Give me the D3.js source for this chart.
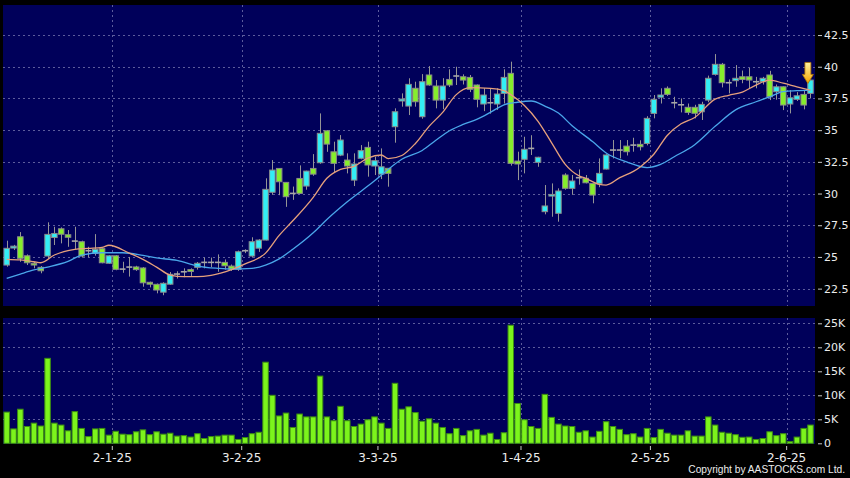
<!DOCTYPE html>
<html><head><meta charset="utf-8">
<script src="https://cdn.jsdelivr.net/npm/d3@7"></script>
<style>html,body{margin:0;padding:0;background:#000;} svg{display:block;}</style>
</head><body><svg id="c" width="850" height="478"></svg>
<script>
// ---------- DATA ----------
const dates = [
"2024-12-06","2024-12-09","2024-12-10","2024-12-11","2024-12-12","2024-12-13","2024-12-16","2024-12-17","2024-12-18","2024-12-19",
"2024-12-20","2024-12-23","2024-12-24","2024-12-27","2024-12-30","2024-12-31","2025-01-02","2025-01-03","2025-01-06","2025-01-07",
"2025-01-08","2025-01-09","2025-01-10","2025-01-13","2025-01-14","2025-01-15","2025-01-16","2025-01-17","2025-01-20","2025-01-21",
"2025-01-22","2025-01-23","2025-01-24","2025-01-27","2025-01-28","2025-02-03","2025-02-04","2025-02-05","2025-02-06","2025-02-07",
"2025-02-10","2025-02-11","2025-02-12","2025-02-13","2025-02-14","2025-02-17","2025-02-18","2025-02-19","2025-02-20","2025-02-21",
"2025-02-24","2025-02-25","2025-02-26","2025-02-27","2025-02-28","2025-03-03","2025-03-04","2025-03-05","2025-03-06","2025-03-07",
"2025-03-10","2025-03-11","2025-03-12","2025-03-13","2025-03-14","2025-03-17","2025-03-18","2025-03-19","2025-03-20","2025-03-21",
"2025-03-24","2025-03-25","2025-03-26","2025-03-27","2025-03-28","2025-03-31","2025-04-01","2025-04-02","2025-04-03","2025-04-07",
"2025-04-08","2025-04-09","2025-04-10","2025-04-11","2025-04-14","2025-04-15","2025-04-16","2025-04-17","2025-04-22","2025-04-23",
"2025-04-24","2025-04-25","2025-04-28","2025-04-29","2025-04-30","2025-05-02","2025-05-06","2025-05-07","2025-05-08","2025-05-09",
"2025-05-12","2025-05-13","2025-05-14","2025-05-15","2025-05-16","2025-05-19","2025-05-20","2025-05-21","2025-05-22","2025-05-23",
"2025-05-26","2025-05-27","2025-05-28","2025-05-29","2025-05-30","2025-06-02","2025-06-03","2025-06-04","2025-06-05"];

const open = [
24.36,25.7,26.59,25.09,24.5,24.18,25.07,26.53,27.22,26.75,
26.25,26.2,25.49,25.28,25.65,24.5,25.09,24.04,24.2,24.21,
24.13,23.0,22.84,22.22,22.85,23.65,23.83,24.0,24.18,24.57,
24.57,24.57,24.57,24.28,24.02,25.49,25.07,25.69,26.33,30.1,
31.98,30.88,30.01,31.19,30.59,31.98,32.43,34.95,33.29,33.03,
32.64,31.06,32.78,33.64,32.17,31.53,31.99,35.27,37.3,36.9,
38.3,36.06,39.35,38.48,37.37,39.0,39.27,39.21,39.16,38.56,
37.06,37.16,37.06,37.9,39.48,32.56,32.7,33.56,32.46,28.57,
29.8,28.44,31.46,30.41,31.25,31.2,30.8,30.8,31.93,33.43,
33.43,33.74,33.82,33.88,33.95,36.32,37.6,38.3,37.16,37.0,
36.8,36.8,36.45,37.37,39.4,40.19,38.74,38.9,39.21,39.21,
38.82,38.82,39.35,38.03,38.42,37.06,37.43,37.82,37.9];

const high = [
26.28,25.95,26.96,25.2,24.6,24.28,27.73,27.38,27.33,27.12,
27.38,26.28,25.8,26.8,25.7,25.15,25.15,24.62,25.0,24.3,
24.2,23.05,22.9,23.0,23.81,23.87,24.1,24.1,24.6,24.95,
24.95,25.2,24.8,24.4,25.5,25.6,26.55,26.4,31.2,32.64,
32.0,30.9,30.55,32.22,31.8,33.11,36.32,35.0,34.09,34.61,
33.17,33.17,33.82,34.09,32.9,33.56,32.0,36.72,37.9,39.09,
38.82,39.42,40.05,38.95,39.1,39.8,40.0,39.4,39.35,38.6,
38.3,38.3,38.3,39.8,40.4,33.3,34.48,34.6,32.9,30.67,
30.8,30.41,31.6,31.46,31.9,31.46,30.85,32.77,33.1,34.22,
34.22,34.22,34.4,34.2,36.1,37.77,38.3,38.45,37.63,37.5,
37.1,37.0,37.24,39.3,41.0,40.3,39.0,40.13,39.7,39.9,
39.2,39.2,39.68,38.6,38.45,38.16,38.0,38.16,39.0];

const low = [
24.23,25.55,24.62,24.36,24.1,23.71,24.85,25.94,26.07,25.8,
25.6,24.95,24.97,25.1,24.5,24.45,23.95,23.75,23.45,23.9,
22.65,22.6,22.13,21.98,22.8,23.3,23.4,23.5,24.0,24.1,
24.2,23.83,24.0,23.9,23.9,25.3,24.95,25.4,26.3,29.9,
29.87,28.95,29.5,30.0,30.3,31.4,32.35,33.29,31.64,32.95,
31.59,30.59,32.7,31.33,31.46,31.14,30.54,34.01,36.85,36.19,
36.85,35.9,38.5,36.72,36.65,38.4,38.56,38.6,38.0,36.8,
36.5,36.3,36.6,37.1,32.2,31.06,31.59,33.04,32.11,28.36,
28.17,27.78,30.3,29.9,30.7,30.8,29.23,30.5,31.9,32.77,
32.77,33.0,33.3,33.4,33.8,35.93,37.1,37.7,36.72,36.4,
36.2,35.93,35.8,37.2,39.3,38.37,37.9,38.42,38.7,38.3,
38.3,38.6,37.37,37.4,36.58,36.32,37.3,36.64,37.5];

const close = [
25.68,25.85,24.89,24.54,24.36,23.91,26.78,26.85,26.79,26.55,
26.25,25.07,25.49,25.6,24.54,25.09,24.02,24.04,24.2,24.0,
22.96,22.85,22.39,22.92,23.63,23.65,23.83,23.85,24.5,24.57,
24.57,24.57,24.3,24.02,25.41,25.49,26.2,26.33,30.33,31.85,
30.93,29.75,30.01,30.01,31.77,31.53,34.75,33.9,32.38,34.22,
32.17,32.33,33.38,32.25,32.59,32.11,31.59,36.45,37.45,38.61,
37.24,38.82,38.56,37.37,38.48,38.56,39.27,38.95,38.22,37.43,
37.77,37.16,37.85,39.16,32.38,32.33,33.49,33.56,32.86,29.02,
29.93,30.2,30.41,30.99,31.25,30.85,29.88,31.59,33.04,33.43,
33.43,33.3,33.82,33.69,35.93,37.43,37.77,37.82,37.16,37.0,
36.4,36.33,37.03,39.09,40.19,38.74,38.74,39.09,39.0,38.95,
38.82,39.09,37.63,38.42,36.98,37.55,37.71,36.98,38.95];

const volume = [
6500,3000,7100,3500,4200,3600,17700,4200,3800,2600,
6600,3100,1400,3000,3100,1700,2500,1900,1800,2400,
2800,1800,2400,1900,2100,1500,1600,1300,2000,1000,
1400,1500,1700,1700,800,1200,2000,2300,16900,10000,
5700,6300,3300,6100,5500,5500,14000,5500,4700,7700,
4700,3500,4000,4900,5500,4200,3100,12500,7100,7600,
6400,4600,5100,4200,3300,2000,3100,1600,2600,2900,
1700,2100,800,2200,24600,8300,4900,3500,3100,10200,
5400,4000,3600,3500,2300,2600,1300,2500,4500,3500,
2900,1800,2000,1300,3100,1200,2900,2100,1700,1700,
2600,1500,1500,5500,3800,2300,2100,1800,1250,1300,
800,1000,2400,1600,2000,350,1300,3100,3800];

// moving averages: [day index, value]
const ma10 = [[0,24.81],[2,24.76],[4,24.62],[5,24.54],[7,25.15],[10,25.6],[12,25.68],[14,25.76],[15,25.92],[18,25.3],
[20,24.81],[22,24.2],[24,23.57],[26,23.44],[28,23.44],[30,23.55],[33,24.0],[35,24.45],[38,25.3],[40,26.7],
[42,27.85],[45,29.7],[47,31.2],[49,31.9],[51,32.15],[53,32.8],[55,33.04],[56,32.75],[58,33.0],[60,33.95],
[62,35.3],[64,36.4],[66,37.8],[68,38.35],[71,38.3],[73,38.12],[74,37.8],[76,36.95],[78,35.7],[80,34.0],
[82,32.3],[84,31.4],[85,31.2],[87,30.72],[88,30.67],[90,31.25],[92,31.75],[93,32.1],[95,33.1],[97,34.6],
[99,35.5],[101,36.0],[104,37.45],[106,37.75],[108,38.0],[110,38.55],[112,38.95],[114,38.7],[116,38.42],[118,38.15]];
const ma20 = [[0,23.31],[2,23.65],[4,23.97],[6,24.2],[9,24.65],[11,25.15],[14,25.33],[17,25.33],[20,25.12],[22,24.92],
[25,24.72],[28,24.28],[31,24.1],[33,24.04],[36,24.1],[38,24.36],[40,24.85],[42,25.6],[45,26.9],[47,27.95],
[50,29.35],[54,31.0],[56,31.9],[58,32.7],[61,33.4],[63,34.2],[65,34.95],[67,35.45],[69,35.85],[71,36.4],
[73,37.0],[75,37.2],[77,37.3],[79,36.9],[81,36.35],[83,35.35],[86,34.1],[88,33.2],[91,32.5],[94,32.05],
[96,32.3],[98,32.9],[101,33.85],[104,35.3],[107,36.6],[110,37.24],[112,37.63],[114,38.03],[116,38.11],[118,38.16]];

const priceTicks = [22.5,25,27.5,30,32.5,35,37.5,40,42.5];
const volTicks = [0,5000,10000,15000,20000,25000];
const tickDates = ["2025-01-02","2025-02-03","2025-03-03","2025-04-01","2025-05-02","2025-06-02"];
const tickLabels = ["2-1-25","3-2-25","3-3-25","1-4-25","2-5-25","2-6-25"];

// ---------- CHART ----------
const svg = d3.select("#c");
const FONT = "DejaVu Sans, Verdana, sans-serif";
const NAVY = "#00005a";
const GRID = "#5c5c9c";
const UP = "#33eef5", DOWN = "#86ee2c", OUTL = "#8a8a8a";

svg.append("rect").attr("width",850).attr("height",478).attr("fill","#000");

const x = d3.scaleBand().domain(dates).range([3.3, 813.9]).padding(0);
const bw = x.bandwidth();
const cx = d => x(d) + bw/2;
const xi = d3.scaleLinear().domain([0, dates.length-1]).range([cx(dates[0]), cx(dates[dates.length-1])]);
const yP = d3.scaleLinear().domain([21.13, 44.87]).range([306, 5]);
const yV = d3.scaleLinear().domain([0, 25000]).range([443.3, 323.3]);

const defs = svg.append("defs");
defs.append("clipPath").attr("id","pclip").append("rect").attr("x",3).attr("y",5).attr("width",812).attr("height",301);
const grad = defs.append("linearGradient").attr("id","arrowG").attr("x1",0).attr("y1",0).attr("x2",0).attr("y2",1);
grad.append("stop").attr("offset","0%").attr("stop-color","#fff3a0");
grad.append("stop").attr("offset","100%").attr("stop-color","#f3a200");

// panels
svg.append("rect").attr("x",3).attr("y",5).attr("width",812).attr("height",301).attr("fill",NAVY);
svg.append("rect").attr("x",3).attr("y",318).attr("width",812).attr("height",126).attr("fill",NAVY);

const grid = svg.append("g").attr("stroke",GRID).attr("stroke-width",1).attr("stroke-dasharray","2,3");
grid.selectAll(".hp").data(priceTicks).join("line")
  .attr("x1",3).attr("x2",815).attr("y1",d=>Math.round(yP(d))+0.5).attr("y2",d=>Math.round(yP(d))+0.5);
grid.selectAll(".hv").data(volTicks.filter(d=>d>0)).join("line").attr("class","hv")
  .attr("x1",3).attr("x2",815).attr("y1",d=>Math.round(yV(d))+0.5).attr("y2",d=>Math.round(yV(d))+0.5);
tickDates.forEach(d => {
  const xx = Math.round(x(d)) + 0.5;
  grid.append("line").attr("x1",xx).attr("x2",xx).attr("y1",5).attr("y2",306);
  grid.append("line").attr("x1",xx).attr("x2",xx).attr("y1",318).attr("y2",444);
});

// volume bars
svg.append("g").selectAll("rect").data(dates).join("rect")
  .attr("x",d=>cx(d)-2.75).attr("width",5.5)
  .attr("y",(d,i)=>yV(volume[i])).attr("height",(d,i)=>Math.max(0,yV(0)-yV(volume[i])))
  .attr("fill","#7cf41c").attr("stroke","#3c8e12").attr("stroke-width",1);

// candles
const pg = svg.append("g").attr("clip-path","url(#pclip)");
const cg = pg.append("g");
dates.forEach((d,i) => {
  const c = cx(d);
  const wx = Math.round(c)+0.5;
  cg.append("line").attr("x1",wx).attr("x2",wx).attr("y1",yP(high[i])).attr("y2",yP(low[i]))
    .attr("stroke","#959595").attr("stroke-width",1);
  if (open[i] === close[i]) {
    cg.append("line").attr("x1",c-3).attr("x2",c+3).attr("y1",yP(open[i])).attr("y2",yP(open[i]))
      .attr("stroke","#a8a8a8").attr("stroke-width",1.6);
  } else {
    const top = Math.max(open[i], close[i]), bot = Math.min(open[i], close[i]);
    cg.append("rect").attr("x",c-2.75).attr("width",5.5)
      .attr("y",yP(top)).attr("height",Math.max(1,yP(bot)-yP(top)))
      .attr("fill", close[i] > open[i] ? UP : DOWN)
      .attr("stroke",OUTL).attr("stroke-width",1);
  }
});

// moving averages
const line = d3.line().x(d=>xi(d[0])).y(d=>yP(d[1])).curve(d3.curveMonotoneX);
pg.append("path").datum(ma20).attr("d",line).attr("fill","none").attr("stroke","#4aa6ea").attr("stroke-width",1.3);
pg.append("path").datum(ma10).attr("d",line).attr("fill","none").attr("stroke","#e6a07c").attr("stroke-width",1.3);

// arrow marker on the last candle
const li = dates.length-1;
const ax = cx(dates[li]) - 2.6, tip = yP(high[li]) + 4;
svg.append("path")
  .attr("d",`M${ax-3},${tip-21} L${ax+3},${tip-21} L${ax+3},${tip-9} L${ax+5.5},${tip-9} L${ax},${tip} L${ax-5.5},${tip-9} L${ax-3},${tip-9} Z`)
  .attr("fill","url(#arrowG)").attr("stroke","#b07200").attr("stroke-width",0.8);

// axes
function styleAxis(g){
  g.select(".domain").remove();
  g.selectAll(".tick line").attr("stroke","#c8c8c8");
  g.selectAll(".tick text").attr("fill","#ececec").attr("font-family",FONT);
}
svg.append("g").attr("transform","translate(818,0)")
  .call(d3.axisRight(yP).tickValues(priceTicks).tickSize(4).tickPadding(2).tickFormat(d=>String(d)))
  .call(styleAxis).selectAll("text").attr("font-size",11);
svg.append("g").attr("transform","translate(818,0)")
  .call(d3.axisRight(yV).tickValues(volTicks).tickSize(4).tickPadding(2).tickFormat(d=>d===0?"0":(d/1000)+"K"))
  .call(styleAxis).selectAll("text").attr("font-size",11);
svg.append("g").attr("transform",`translate(${-bw/2},446)`)
  .call(d3.axisBottom(x).tickValues(tickDates).tickSize(4).tickPadding(3).tickFormat(d=>tickLabels[tickDates.indexOf(d)]))
  .call(styleAxis).selectAll("text").attr("font-size",12);

svg.append("text").attr("x",845).attr("y",473).attr("text-anchor","end")
  .attr("font-family","Liberation Sans, Arial, sans-serif").attr("font-size",10.2).attr("fill","#ececec")
  .text("Copyright by AASTOCKS.com Ltd.");
</script></body></html>
